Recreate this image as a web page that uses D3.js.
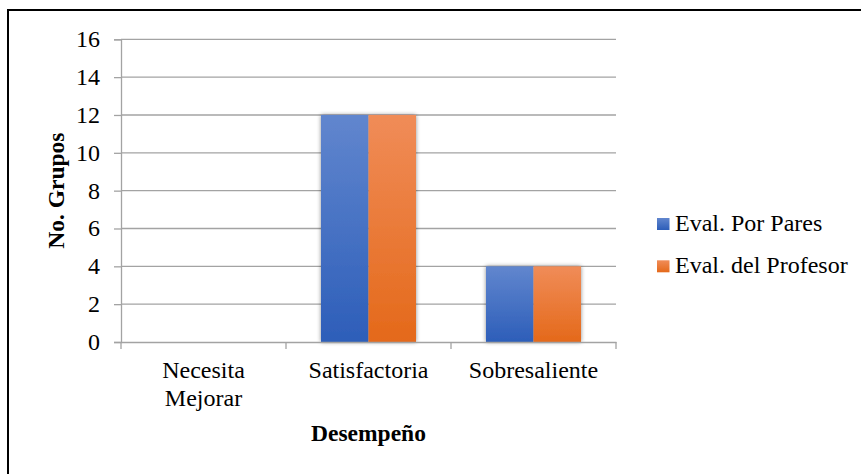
<!DOCTYPE html>
<html><head><meta charset="utf-8">
<script src="https://cdn.jsdelivr.net/npm/d3@7"></script>
<style>
html,body{margin:0;padding:0;background:#fff;}
svg{display:block;}
</style></head>
<body>
<svg id="chart" width="861" height="474"></svg>
<script>
const categories = [["Necesita","Mejorar"],["Satisfactoria"],["Sobresaliente"]];
const seriesNames = ["Eval. Por Pares","Eval. del Profesor"];
const paresValues = [0, 12, 4];
const profesorValues = [0, 12, 4];
const yTicks = [0, 2, 4, 6, 8, 10, 12, 14, 16];
const yTitle = "No. Grupos";
const xTitle = "Desempeño";

const FONT = '"Liberation Serif"';
const K = 0.8; // text drawn at 30px and scaled to 24px
const svg = d3.select("#chart");

function label(parent, x, y, str, opts = {}) {
  const size = opts.size || 24;
  const rot = opts.rotate ? ` rotate(${opts.rotate})` : "";
  const t = parent.append("text")
    .attr("transform", `translate(${x},${y})${rot} scale(${K})`)
    .attr("text-anchor", opts.anchor || "start")
    .attr("fill", "#000")
    .style("font-family", FONT)
    .style("font-size", (size / K) + "px")
    .style("font-weight", opts.bold ? "bold" : "normal")
    .text(str);
  return t;
}

const defs = svg.append("defs");
const grads = [["gBlue","#6186ce","#2d5eb9"],["gOrange","#f08c58","#e4691a"]];
grads.forEach(([id,c1,c2])=>{
  const g = defs.append("linearGradient").attr("id",id).attr("x1",0).attr("y1",0).attr("x2",0).attr("y2",1);
  g.append("stop").attr("offset","0%").attr("stop-color",c1);
  g.append("stop").attr("offset","100%").attr("stop-color",c2);
});
const f = defs.append("filter").attr("id","shadow").attr("x","-30%").attr("y","-10%").attr("width","160%").attr("height","120%");
f.append("feDropShadow").attr("dx",0).attr("dy",0).attr("stdDeviation",2.2).attr("flood-color","#000").attr("flood-opacity",0.45);

// outer border (right/bottom edges cropped)
svg.append("rect").attr("x",8).attr("y",10).attr("width",900).attr("height",500)
  .attr("fill","none").attr("stroke","#000").attr("stroke-width",2);

const pL = 121, pR = 616, pT = 39.3, pB = 342;
const x = d3.scaleBand().domain(d3.range(categories.length)).range([pL,pR]);
const y = d3.scaleLinear().domain([0,16]).range([pB,pT]);
const inner = d3.scaleBand().domain([0,1]).range([0, 95]);

// gridlines
svg.append("g").selectAll("line").data(yTicks.filter(t=>t>0)).join("line")
  .attr("x1",pL).attr("x2",pR).attr("y1",d=>y(d)).attr("y2",d=>y(d))
  .attr("stroke","#a3a3a3").attr("stroke-width",1.3);

// y axis (line + ticks via d3 axis, labels drawn separately)
const yAxis = svg.append("g").attr("transform",`translate(${pL},0)`)
  .call(d3.axisLeft(y).tickValues(yTicks).tickSize(7).tickFormat(""));
yAxis.select(".domain").attr("stroke","#a3a3a3").attr("stroke-width",1.3);
yAxis.selectAll(".tick line").attr("stroke","#a3a3a3").attr("stroke-width",1.3);
yAxis.selectAll(".tick text").remove();
const yLab = svg.append("g");
yTicks.forEach(v => label(yLab, pL - 21, y(v) + 8, d3.format("d")(v), {anchor: "end"}));

// bars
const series = [paresValues, profesorValues];
const fills = ["url(#gBlue)","url(#gOrange)"];
const barG = svg.append("g").attr("filter","url(#shadow)");
categories.forEach((c,i)=>{
  const x0 = x(i) + (x.bandwidth()-95)/2;
  series.forEach((vals,s)=>{
    if (vals[i] <= 0) return;
    barG.append("rect").attr("x",x0+inner(s)).attr("width",inner.bandwidth())
      .attr("y",y(vals[i])).attr("height",y(0)-y(vals[i])).attr("fill",fills[s]);
  });
});

// x axis
const xAxis = svg.append("g").attr("transform",`translate(0,${pB})`)
  .call(d3.axisBottom(x).tickSize(0).tickFormat(""));
xAxis.select(".domain").attr("stroke","#a3a3a3").attr("stroke-width",1.3);
xAxis.selectAll(".tick").remove();
const bounds = x.domain().map(d=>x(d)).concat([pR]);
xAxis.selectAll("line.bt").data(bounds).join("line").attr("class","bt")
  .attr("x1",d=>d).attr("x2",d=>d).attr("y1",0).attr("y2",7)
  .attr("stroke","#a3a3a3").attr("stroke-width",1.3);
const xLab = svg.append("g");
categories.forEach((lines,i)=>{
  lines.forEach((ln,k)=>label(xLab, x(i)+x.bandwidth()/2, 378 + k*28, ln, {anchor: "middle"}));
});

// titles
label(svg, (pL+pR)/2, 441, xTitle, {anchor: "middle", bold: true, size: 23.5});
label(svg, 64, (pT+pB)/2, yTitle, {anchor: "middle", bold: true, size: 23.5, rotate: -90});

// legend
seriesNames.forEach((n,i)=>{
  const base = 231 + i*42.3;
  svg.append("rect").attr("x",657).attr("y",base-13).attr("width",12.5).attr("height",12)
    .attr("fill",fills[i]);
  label(svg, 675, base, n);
});
</script>
</body></html>
